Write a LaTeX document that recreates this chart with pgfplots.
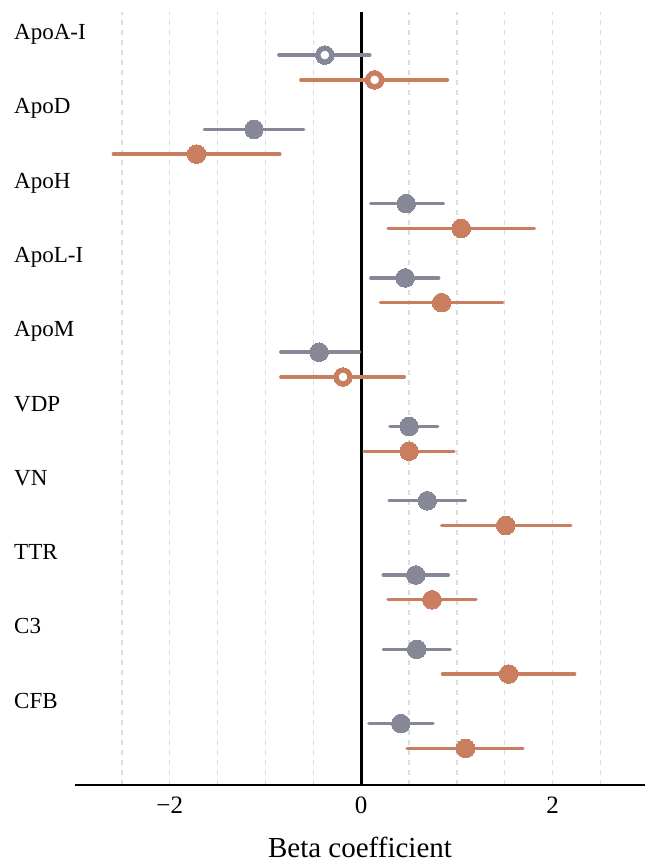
\documentclass[border=0pt]{standalone}
\usepackage{pgfplots}
\pgfplotsset{compat=1.18}
\usepackage{pgfplotstable}
\usepackage{fontspec}
\setmainfont{Liberation Serif}
\definecolor{grayc}{HTML}{868797}
\definecolor{orangec}{HTML}{C97E60}
\definecolor{gridc}{HTML}{DDDDDD}

% y = -row (rows evenly spaced: label, gray, orange for each protein)
\pgfplotstableread{
y est lo hi
-1 -0.38 -0.86 0.09
-4 -1.12 -1.64 -0.60
-7 0.47 0.10 0.86
-10 0.46 0.10 0.81
-13 -0.44 -0.84 -0.02
-16 0.50 0.30 0.80
-19 0.69 0.29 1.09
-22 0.57 0.23 0.91
-25 0.58 0.23 0.93
-28 0.415 0.08 0.75
}\graytab

\pgfplotstableread{
y est lo hi
-2 0.14 -0.63 0.90
-5 -1.72 -2.59 -0.85
-8 1.045 0.28 1.81
-11 0.84 0.20 1.48
-14 -0.19 -0.84 0.45
-17 0.50 0.03 0.97
-20 1.51 0.84 2.19
-23 0.74 0.28 1.20
-26 1.54 0.85 2.23
-29 1.09 0.48 1.69
}\orangetab

\begin{document}
\begin{tikzpicture}
\useasboundingbox (-75bp,-79bp) rectangle (570bp,785bp);
\begin{axis}[
  at={(0,0)}, anchor=south west,
  scale only axis, width=570bp, height=773bp,
  xmin=-2.99, xmax=2.965, ymin=-30.48, ymax=0.74,
  axis x line*=bottom, axis y line=none,
  x axis line style={line width=2.7bp, black},
  xtick={-2,0,2}, xticklabels={−2,0,2},
  minor xtick={-2.5,-1.5,-1,-0.5,0.5,1,1.5,2.5},
  xmajorgrids, xminorgrids,
  grid style={gridc, line width=1.2bp, dash pattern=on 5bp off 5bp},
  major tick length=0, minor tick length=0,
  ytick=\empty,
  clip=false,
  xticklabel style={font=\fontsize{25bp}{30bp}\selectfont, anchor=base, yshift=-28bp, inner sep=0pt},
  xlabel={Beta coefficient},
  xlabel style={at={(axis description cs:0.5,0)}, anchor=base, yshift=-72bp, inner sep=0pt, font=\fontsize{29bp}{34bp}\selectfont},
  every error bar/.append style={line width=3.4bp, line cap=round},
]
\addplot[black, line width=3bp, forget plot] coordinates {(0,-30.48) (0,0.74)};

\addplot[grayc, only marks, mark=*, mark size=9.3bp, mark options={draw=grayc, line width=0pt, fill=grayc},
  error bars/.cd, x dir=both, x explicit, error mark=none,
  error bar style={grayc, line width=3.4bp, line cap=round}]
  table[x=est, y=y, x error plus expr=\thisrow{hi}-\thisrow{est}, x error minus expr=\thisrow{est}-\thisrow{lo}] {\graytab};

\addplot[orangec, only marks, mark=*, mark size=9.3bp, mark options={draw=orangec, line width=0pt, fill=orangec},
  error bars/.cd, x dir=both, x explicit, error mark=none,
  error bar style={orangec, line width=3.4bp, line cap=round}]
  table[x=est, y=y, x error plus expr=\thisrow{hi}-\thisrow{est}, x error minus expr=\thisrow{est}-\thisrow{lo}] {\orangetab};

% open (non-significant) estimates
\addplot[grayc, only marks, mark=*, mark size=6.2bp, mark options={draw=grayc, fill=white, line width=3.8bp}]
  coordinates {(-0.38,-1)};
\addplot[orangec, only marks, mark=*, mark size=6.2bp, mark options={draw=orangec, fill=white, line width=3.8bp}]
  coordinates {(0.14,-2) (-0.19,-14)};

\foreach \lab/\r in {ApoA-I/0, ApoD/-3, ApoH/-6, ApoL-I/-9, ApoM/-12, VDP/-15, VN/-18, TTR/-21, C3/-24, CFB/-27} {
  \edef\temp{\noexpand\node[anchor=base west, inner sep=0pt, font=\noexpand\fontsize{23bp}{27bp}\noexpand\selectfont] at ([xshift=-61bp, yshift=-9.3bp]axis cs:-2.99,\r) {\lab};}
  \temp
}
\end{axis}
\end{tikzpicture}
\end{document}
